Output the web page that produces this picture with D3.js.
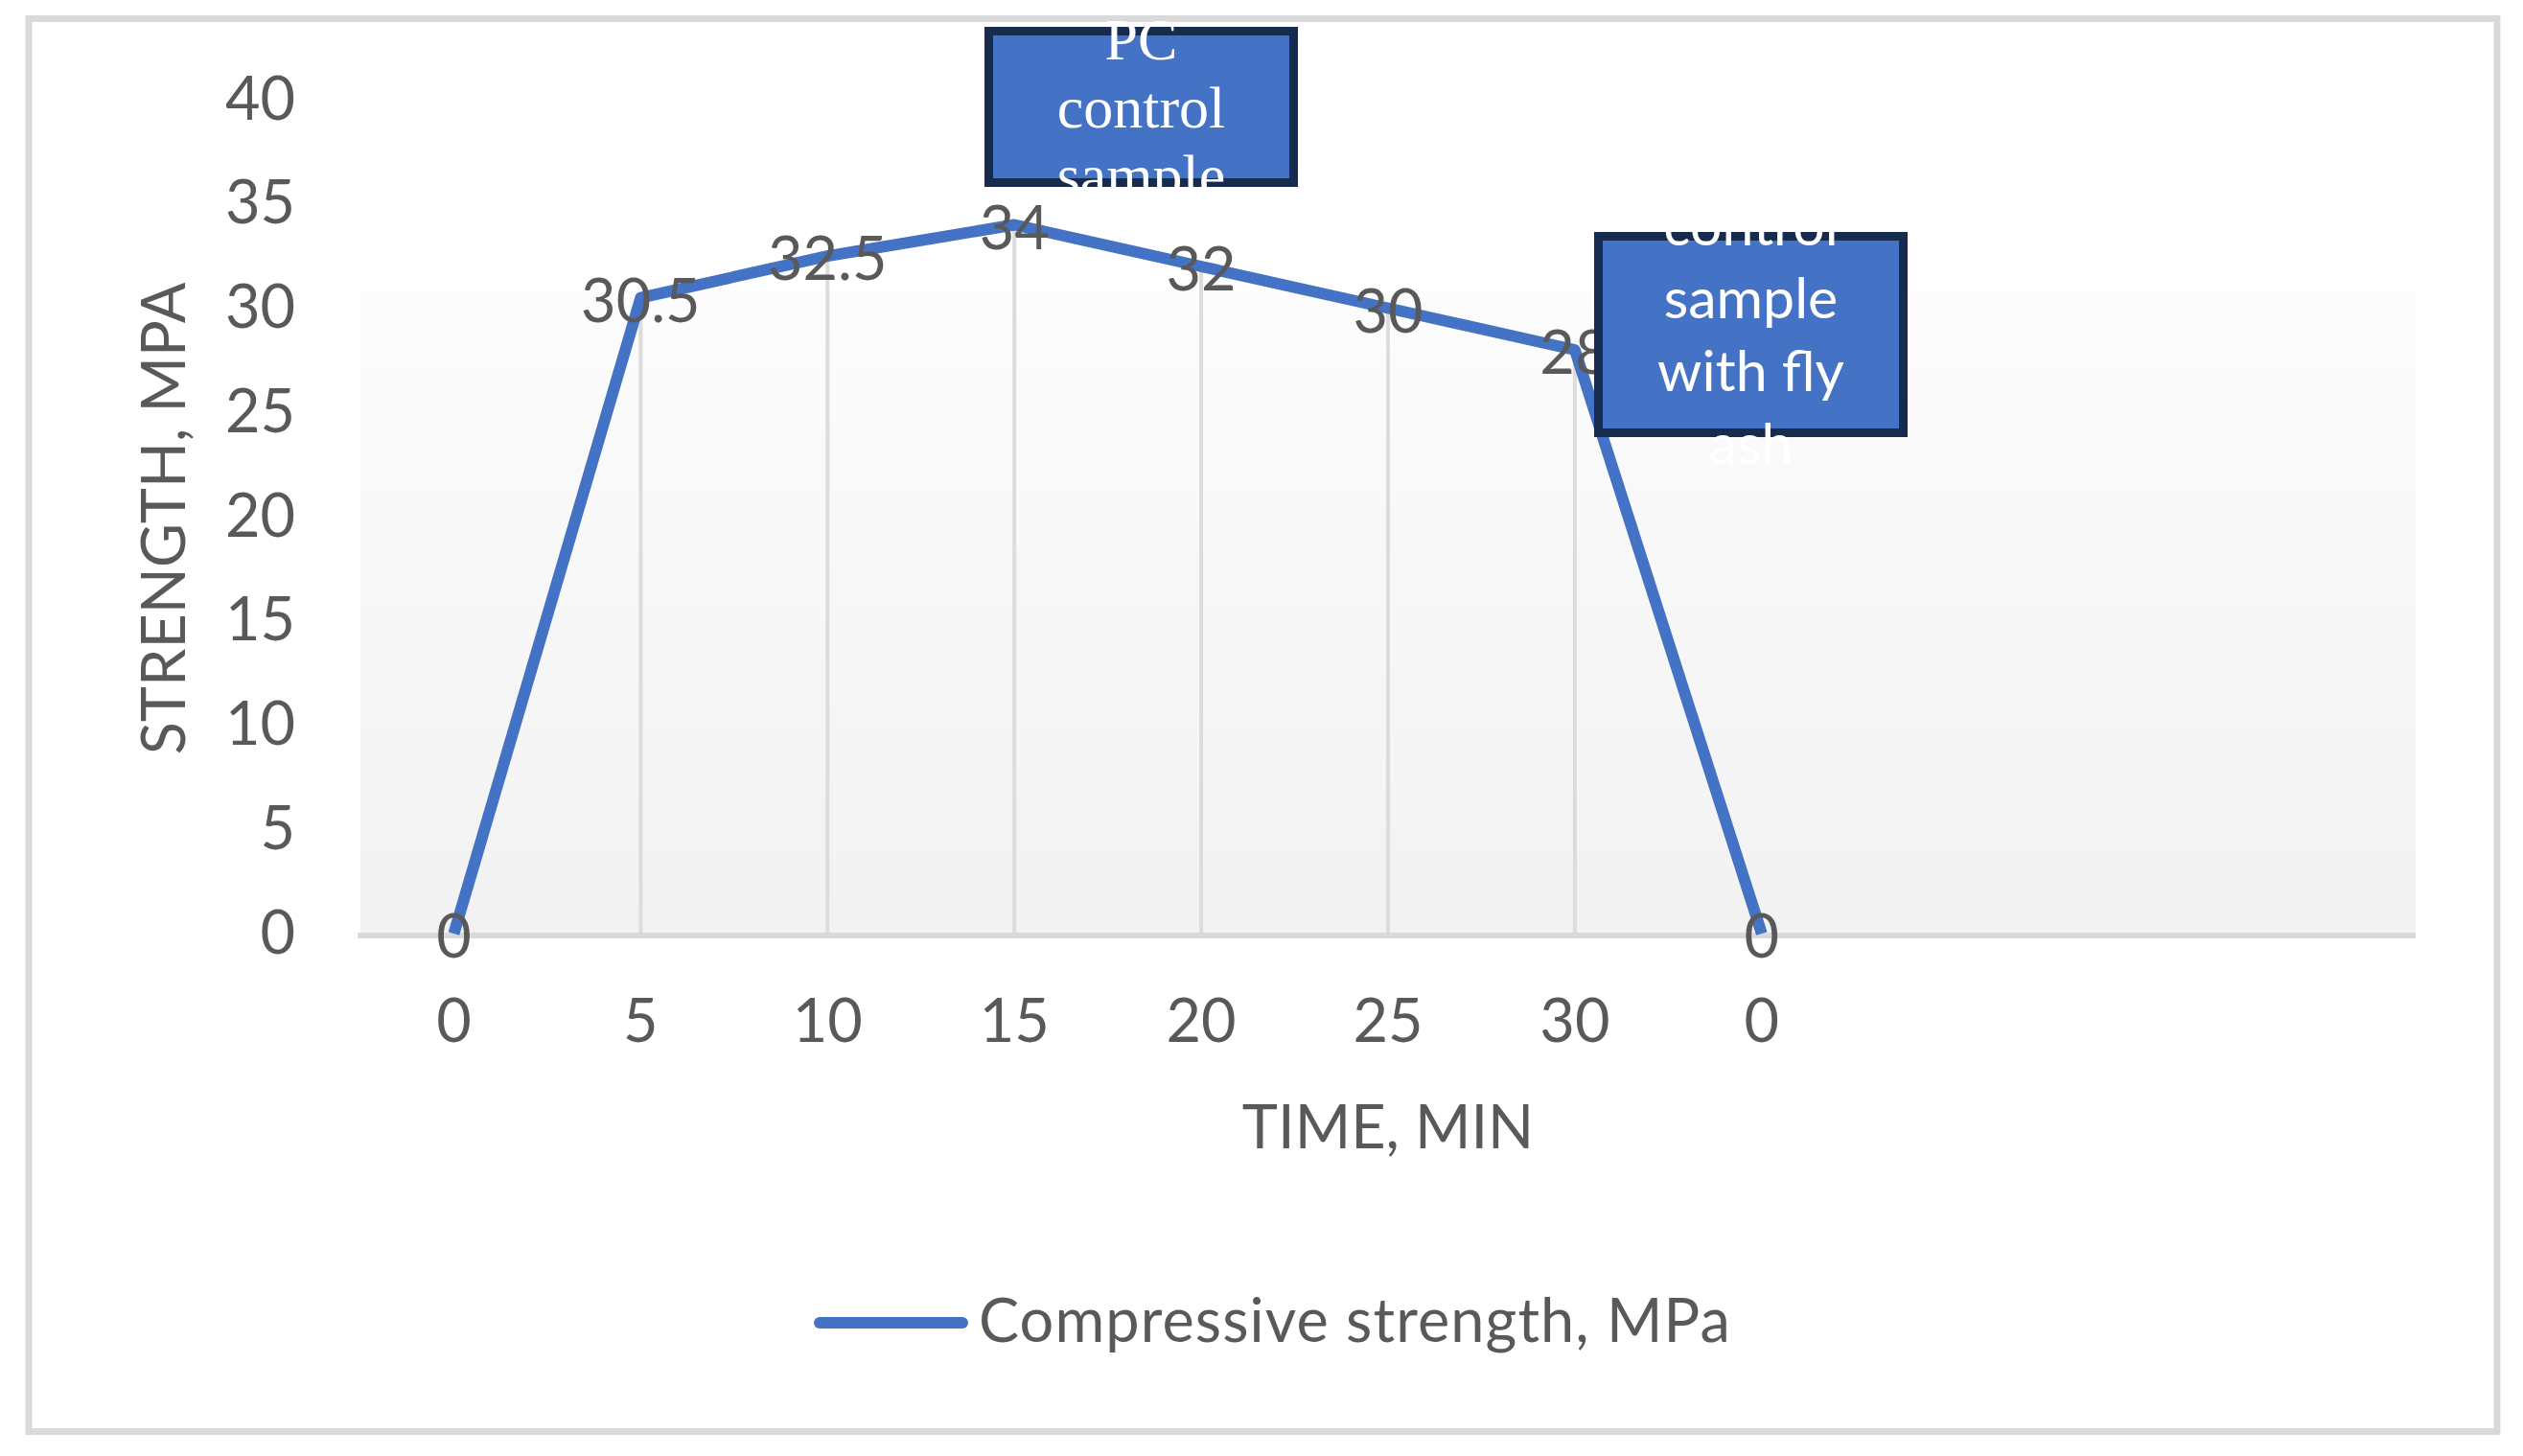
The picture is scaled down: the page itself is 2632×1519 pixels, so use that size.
<!DOCTYPE html>
<html>
<head>
<meta charset="utf-8">
<script src="https://cdn.jsdelivr.net/npm/d3@7"></script>
<style>
  html, body { margin: 0; padding: 0; background: #ffffff; }
  svg { display: block; }
</style>
</head>
<body>
<script>
// ---- data ----
const categories = ["0", "5", "10", "15", "20", "25", "30", "0", "", "", ""];
const strength = [0, 30.5, 32.5, 34, 32, 30, 28, 0];
const yTicks = [0, 5, 10, 15, 20, 25, 30, 35, 40];
const seriesName = "Compressive strength, MPa";
const xTitle = "TIME, MIN";
const yTitle = "STRENGTH, MPA";
const pcBoxLines = ["PC", "control", "sample"];
const flyBoxLines = ["control", "sample", "with fly", "ash"];

// ---- layout ----
const W = 2632, H = 1519;
const plot = { left: 376, right: 2520, top: 104, bottom: 974 };
const blue = "#4472C4", navy = "#172B4F", textGray = "#595959", lineGray = "#D9D9D9";
const sans = "Lato, 'Open Sans', sans-serif";

const svg = d3.select("body").append("svg").attr("width", W).attr("height", H);

const x = d3.scaleBand().domain(d3.range(categories.length)).range([plot.left, plot.right]);
const y = d3.scaleLinear().domain([0, 40]).range([plot.bottom, plot.top]);
const cx = i => x(i) + x.bandwidth() / 2;

// chart border
svg.append("rect").attr("x", 30).attr("y", 19.5).attr("width", 2575).attr("height", 1474)
  .attr("fill", "#ffffff").attr("stroke", lineGray).attr("stroke-width", 7);

// plot area gradient
const defs = svg.append("defs");
const grad = defs.append("linearGradient").attr("id", "bg").attr("x1", 0).attr("y1", 0).attr("x2", 0).attr("y2", 1);
grad.append("stop").attr("offset", "0%").attr("stop-color", "#FCFCFC");
grad.append("stop").attr("offset", "100%").attr("stop-color", "#F2F2F2");
svg.append("rect").attr("x", plot.left).attr("y", 303).attr("width", plot.right - plot.left)
  .attr("height", plot.bottom - 303).attr("fill", "url(#bg)");

// drop lines
svg.append("g").selectAll("line").data(strength).join("line")
  .attr("x1", (d, i) => cx(i)).attr("x2", (d, i) => cx(i))
  .attr("y1", d => y(d)).attr("y2", y(0))
  .attr("stroke", "#DCDCDC").attr("stroke-width", 4);

// category axis line
svg.append("line").attr("x1", plot.left - 3).attr("x2", plot.right).attr("y1", y(0) + 2).attr("y2", y(0) + 2)
  .attr("stroke", lineGray).attr("stroke-width", 6);

// axes
const yAxis = svg.append("g").attr("transform", `translate(${plot.left},0)`)
  .call(d3.axisLeft(y).tickValues(yTicks).tickSize(0).tickPadding(68));
const xAxis = svg.append("g").attr("transform", `translate(0,${plot.bottom})`)
  .call(d3.axisBottom(x).tickFormat(i => categories[i]).tickSize(0).tickPadding(68));
[yAxis, xAxis].forEach(g => {
  g.select(".domain").remove();
  g.selectAll("text").attr("font-family", sans).attr("font-size", 63).attr("fill", textGray);
});

// axis titles
svg.append("text").attr("x", (plot.left + plot.right) / 2).attr("y", 1198)
  .attr("text-anchor", "middle").attr("font-family", sans).attr("font-size", 63)
  .attr("fill", textGray).text(xTitle);
svg.append("text").attr("transform", `translate(193,${(plot.top + plot.bottom) / 2 + 2}) rotate(-90)`)
  .attr("text-anchor", "middle").attr("font-family", sans).attr("font-size", 63)
  .attr("fill", textGray).text(yTitle);

// series line
const line = d3.line().x((d, i) => cx(i)).y(d => y(d));
svg.append("path").datum(strength).attr("d", line).attr("fill", "none")
  .attr("stroke", blue).attr("stroke-width", 12).attr("stroke-linejoin", "round");

// data labels
svg.append("g").selectAll("text").data(strength).join("text")
  .attr("x", (d, i) => cx(i)).attr("y", d => y(d) + 25)
  .attr("text-anchor", "middle").attr("font-family", sans).attr("font-size", 63)
  .attr("fill", textGray).text(d => d);

// legend
svg.append("line").attr("x1", 855).attr("x2", 1004).attr("y1", 1380).attr("y2", 1380)
  .attr("stroke", blue).attr("stroke-width", 12).attr("stroke-linecap", "round");
svg.append("text").attr("x", 1021).attr("y", 1400).attr("font-family", sans).attr("font-size", 63)
  .attr("letter-spacing", 1.1).attr("fill", textGray).text(seriesName);

// annotation boxes
function box(x0, y0, w, h, lines, family, size, firstBaseline, lh) {
  svg.append("rect").attr("x", x0 + 4.5).attr("y", y0 + 4.5).attr("width", w - 9).attr("height", h - 9)
    .attr("fill", blue).attr("stroke", navy).attr("stroke-width", 9);
  svg.append("g").selectAll("text").data(lines).join("text")
    .attr("x", x0 + w / 2).attr("y", (d, i) => firstBaseline + i * lh)
    .attr("text-anchor", "middle").attr("font-family", family).attr("font-size", size)
    .attr("fill", "#ffffff").text(d => d);
}
box(1027, 28, 327, 167, pcBoxLines, "'Liberation Serif', 'Times New Roman', serif", 62, 62, 71);
box(1663, 242, 327, 214, flyBoxLines, sans, 59, 256, 76);
</script>
</body>
</html>
